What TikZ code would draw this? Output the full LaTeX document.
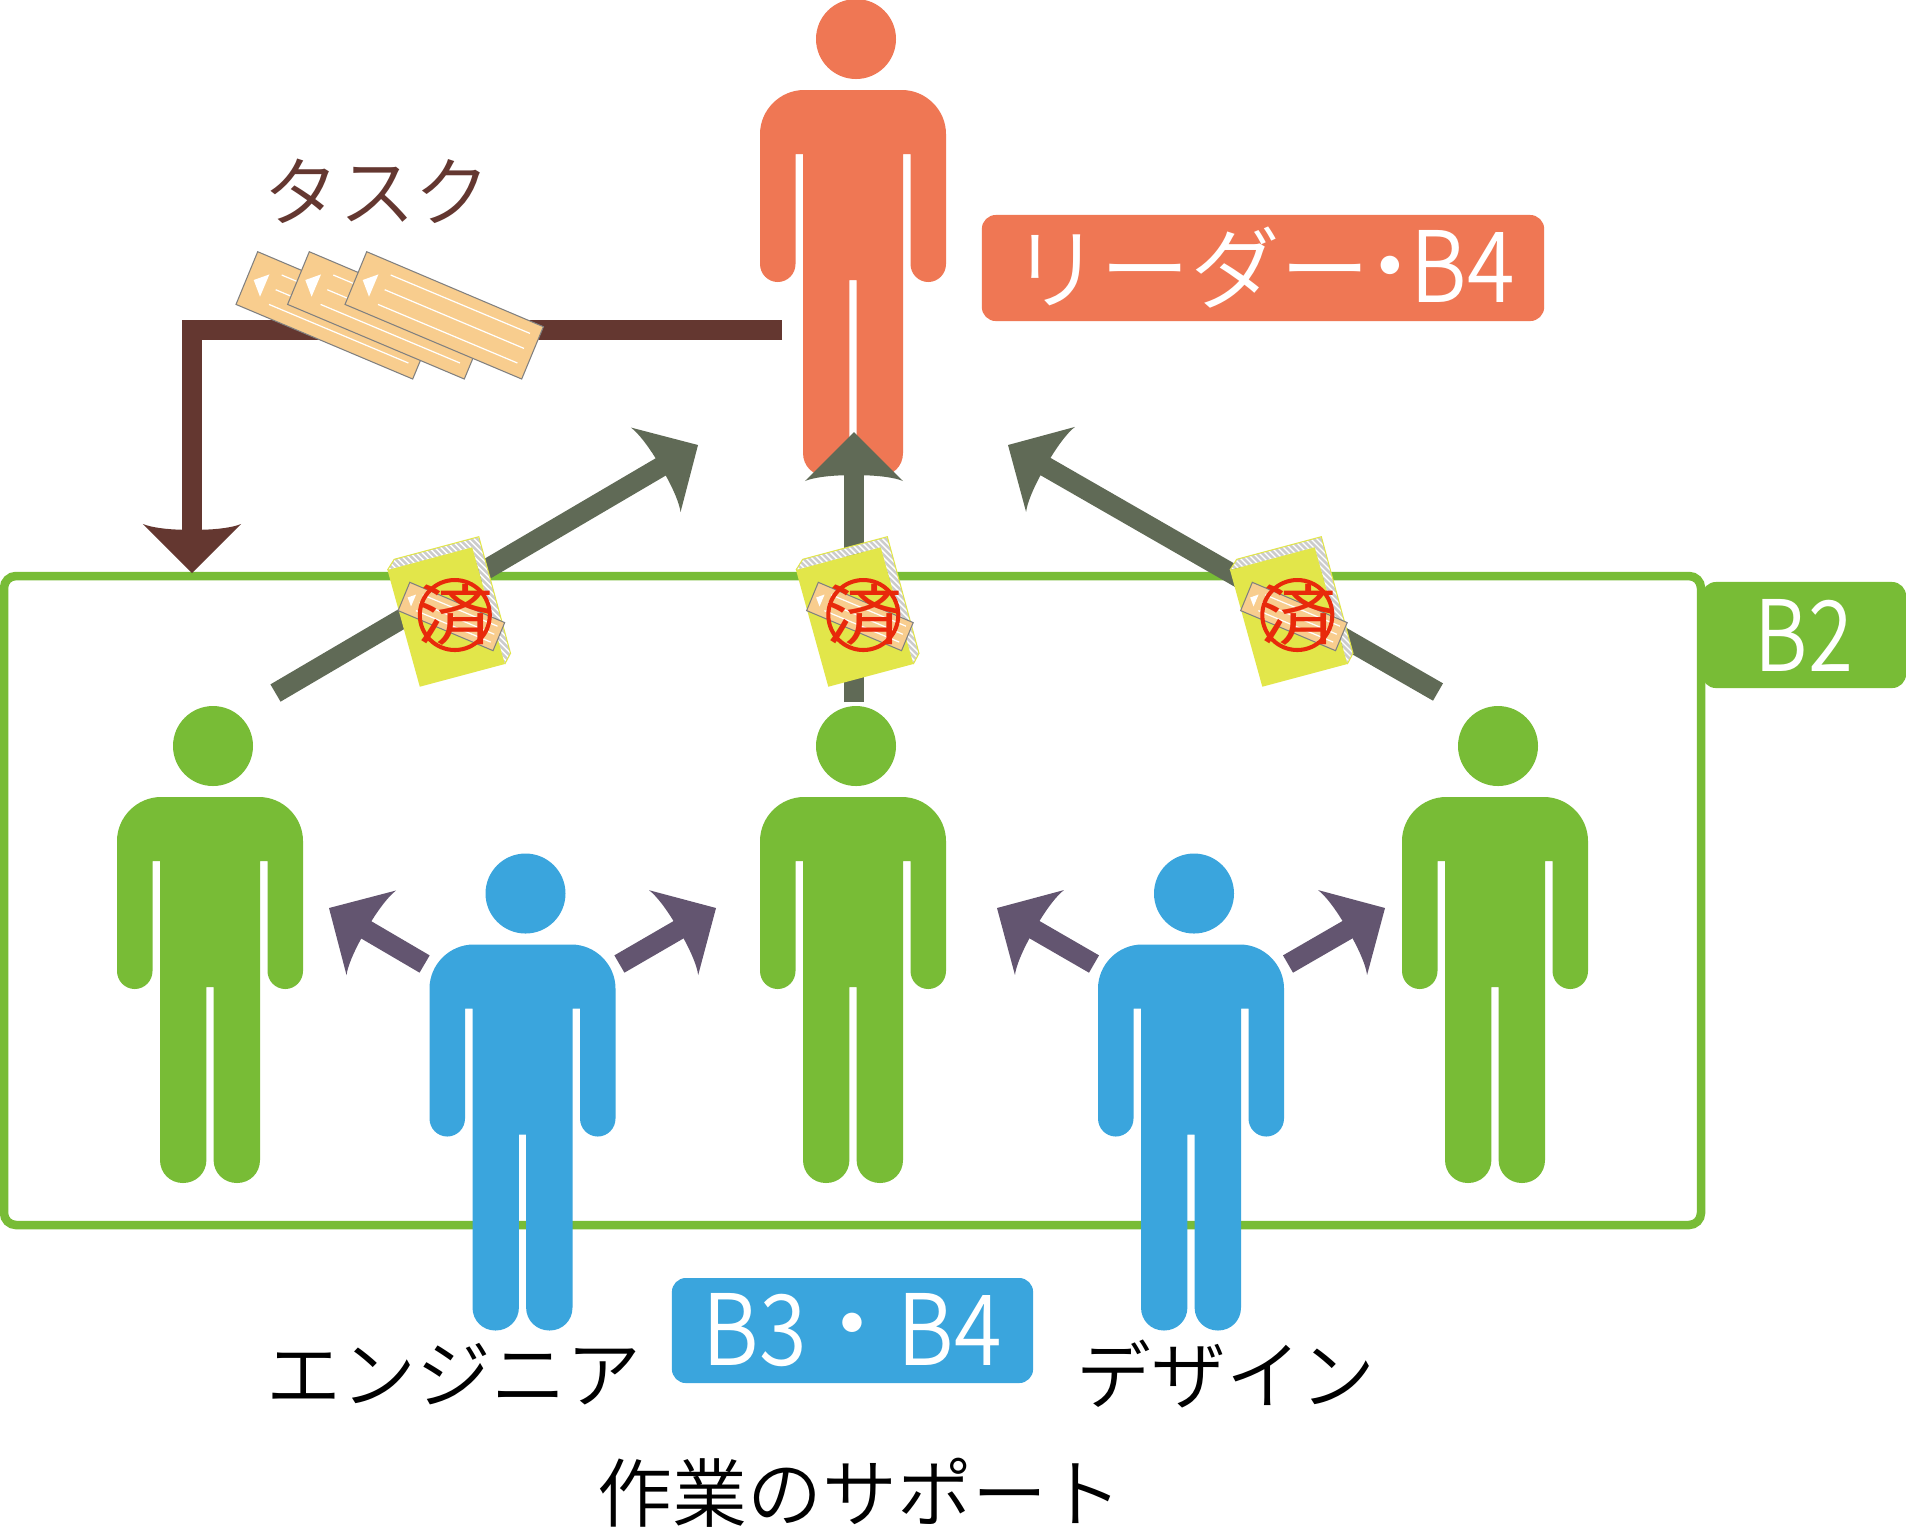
\documentclass[tikz,border=0pt]{standalone}
\usepackage{fontspec}
\setmainfont{Noto Sans CJK JP DemiLight}
\newfontfamily\stampfont{Noto Sans CJK JP}
\usetikzlibrary{arrows.meta}
\definecolor{cgreen}{HTML}{78BC36}
\definecolor{cblue}{HTML}{3AA5DD}
\definecolor{corange}{HTML}{EF7754}
\definecolor{cyellow}{HTML}{E2E64A}
\definecolor{ccard}{HTML}{F8CD8E}
\definecolor{cred}{HTML}{E8290B}
\definecolor{cbrown}{HTML}{643730}
\definecolor{cgray}{HTML}{606A56}
\definecolor{cpurple}{HTML}{635570}
\pgfdeclarearrow{
  name=Swoop,
  setup code={
    \pgfarrowssettipend{0pt}
    \pgfarrowssetbackend{-13.94pt}
    \pgfarrowssetlineend{-11.5pt}
    \pgfarrowssetvisualbackend{-12pt}
    \pgfarrowshullpoint{0pt}{0pt}
    \pgfarrowshullpoint{-13.94pt}{13.94pt}
    \pgfarrowshullpoint{-13.94pt}{-13.94pt}
  },
  drawing code={
    \pgfpathmoveto{\pgfqpoint{0pt}{0pt}}
    \pgfpathlineto{\pgfqpoint{-13.94pt}{13.94pt}}
    \pgfpathcurveto{\pgfqpoint{-12.9pt}{11.5pt}}{\pgfqpoint{-12.4pt}{7pt}}{\pgfqpoint{-12.3pt}{2.85pt}}
    \pgfpathlineto{\pgfqpoint{-12.3pt}{-2.85pt}}
    \pgfpathcurveto{\pgfqpoint{-12.4pt}{-7pt}}{\pgfqpoint{-12.9pt}{-11.5pt}}{\pgfqpoint{-13.94pt}{-13.94pt}}
    \pgfpathclose
    \pgfusepathqfill
  }
}
\newcommand{\cardbody}{%
  \draw[fill=ccard,draw=gray,line width=0.3pt] (0,0) -- (176.7,75) -- (155,127.3) -- (-21.7,52.7) -- cycle;
  \fill[white] (11.7,22.7) -- (2.3,45) -- (-4,28.3) -- cycle;
  \draw[white,line width=0.35pt] (24,23.3) -- (163.3,81.7) (18,38) -- (157.3,96.7) (11.3,52.7) -- (150.7,111.3);
}
\newcommand{\lat}[2][.88]{{\fontsize{28}{30}\selectfont\scalebox{#1}[1]{#2}}}
\tikzset{
  x=0.01cm,y=-0.01cm,
  pics/person/.style={code={
    \fill[#1] (3,-51) circle[radius=40];
    \fill[#1] (-49,0) -- (49,0) .. controls (73,0) and (93,20) .. (93,44) -- (93,174)
      .. controls (93,184) and (85,192) .. (75.25,192) .. controls (65.5,192) and (57.5,184) .. (57.5,174)
      -- (57.5,64) -- (50,64) -- (50,363) .. controls (50,376) and (40,386) .. (27,386)
      .. controls (14,386) and (3.6,376) .. (3.6,363) -- (3.6,190) -- (-3.6,190) -- (-3.6,363)
      .. controls (-3.6,376) and (-14,386) .. (-27,386) .. controls (-40,386) and (-50,376) .. (-50,363)
      -- (-50,64) -- (-57.5,64) -- (-57.5,174) .. controls (-57.5,184) and (-65.5,192) .. (-75.25,192)
      .. controls (-85,192) and (-93,184) .. (-93,174) -- (-93,44) .. controls (-93,20) and (-73,0) .. (-49,0) -- cycle;
  }},
  pics/taskcard/.style={code={\cardbody}},
  pics/stamp/.style={code={
    \begin{scope}
      \clip (0,0) -- (6.7,-10.7) -- (91.3,-33.3) -- (123,83.3) -- (117.3,94) -- (84.7,-22.7) -- cycle;
      \fill[black!20] (-10,-40) rectangle (130,100);
      \foreach \i in {-180,-174,...,130} \draw[white,line width=0.4pt] (\i,-40) -- (\i+150,110);
    \end{scope}
    \draw[cyellow,line width=0.3pt] (0,0) -- (6.7,-10.7) -- (91.3,-33.3) -- (123,83.3) -- (117.3,94);
    \fill[cyellow] (0,0) -- (84.7,-22.7) -- (117.3,94) -- (32.3,116.7) -- cycle;
    \begin{scope}[shift={(22.3,12.3)},scale=0.537]\cardbody\end{scope}
    \draw[cred,line width=1.15pt] (67.3,45) circle[radius=35];
    \node[cred,inner sep=0,font=\stampfont\fontsize{22}{24}\selectfont] (#1) at (68,45) {\scalebox{1}[.85]{済}};
  }},
  flow/.style={line width=0.2cm,-{Swoop}},
  tag/.style={rounded corners=0.14cm,inner sep=0,text=white,font=\fontsize{25.5}{30}\selectfont},
  big/.style={inner sep=0,font=\fontsize{21.3}{24}\selectfont},
}
\begin{document}
\begin{tikzpicture}
\useasboundingbox (0,0) rectangle (1906,1529);
\fill[white] (0,0) rectangle (1906,1529);
% coordinates
\coordinate (a1t) at (275.5,693); \coordinate (a1h) at (698,445);
\coordinate (a2t) at (854,702);   \coordinate (a2h) at (854,432);
\coordinate (a3t) at (1438,692);  \coordinate (a3h) at (1008,445);
\coordinate (p1t) at (424.6,964); \coordinate (p1h) at (329,908);
\coordinate (p2t) at (619.4,964); \coordinate (p2h) at (716,908);
\coordinate (p3t) at (1094,964);  \coordinate (p3h) at (997,908);
\coordinate (p4t) at (1288,964);  \coordinate (p4h) at (1385,908);
\coordinate (bt) at (782,330);    \coordinate (bh) at (192,573);
% leader
\pic (leader) at (853,90) {person=corange};
\node[tag,fill=corange,minimum width=5.62cm,minimum height=1.06cm] (leaderlabel) at (1263,268) {\raisebox{-0.07cm}{リーダー}\hspace{-.27em}\raisebox{-0.04cm}{・}\hspace{-.27em}\raisebox{-0.07cm}{\lat{B4}}};
% group frame
\draw[cgreen,line width=0.085cm,rounded corners=0.12cm] (4,576) rectangle (1701,1225);
\node[tag,fill=cgreen,minimum width=2.04cm,minimum height=1.06cm] (b2label) at (1804,635) {\raisebox{-0.065cm}{\lat[.83]{B2}}};
% flows
\draw[flow,cgray] (a1t) -- (a1h);
\draw[flow,cgray] (a2t) -- (a2h);
\draw[flow,cgray] (a3t) -- (a3h);
% brown arrow
\draw[cbrown,line width=0.2cm,line join=miter,-{Swoop}] (bt) -| (bh);
% cards
\pic (card1) at (257.7,251.7) {taskcard};
\pic (card2) at (309.3,251.7) {taskcard};
\pic (card3) at (366.7,251.7) {taskcard};
\node[big,text=cbrown,font=\fontsize{21.6}{24}\selectfont] (tasklabel) at (377,191) {タスク};
% people
\pic (g1) at (210,797) {person=cgreen};
\pic (g2) at (853,797) {person=cgreen};
\pic (g3) at (1495,797) {person=cgreen};
\pic (b1) at (522.5,944.5) {person=cblue};
\pic (b2) at (1191,944.5) {person=cblue};
% purple
\draw[flow,cpurple] (p1t) -- (p1h);
\draw[flow,cpurple] (p2t) -- (p2h);
\draw[flow,cpurple] (p3t) -- (p3h);
\draw[flow,cpurple] (p4t) -- (p4h);
% stamps
\pic at (387.5,570) {stamp=s1};
\pic at (796,570) {stamp=s2};
\pic at (1230,570) {stamp=s3};
% labels
\node[tag,fill=cblue,minimum width=3.61cm,minimum height=1.05cm,font=\fontsize{26.7}{30}\selectfont] (b34) at (852.5,1330.5) {\raisebox{-0.07cm}{\lat{B3}}\hspace{-0.015cm}・\hspace{-0.015cm}\raisebox{-0.07cm}{\lat{B4}}};
\node[big] (eng) at (454,1374) {エンジニア};
\node[big] (des) at (1226,1374) {デザイン};
\node[big] (sup) at (860,1493) {作業のサポート};
\end{tikzpicture}
\end{document}
